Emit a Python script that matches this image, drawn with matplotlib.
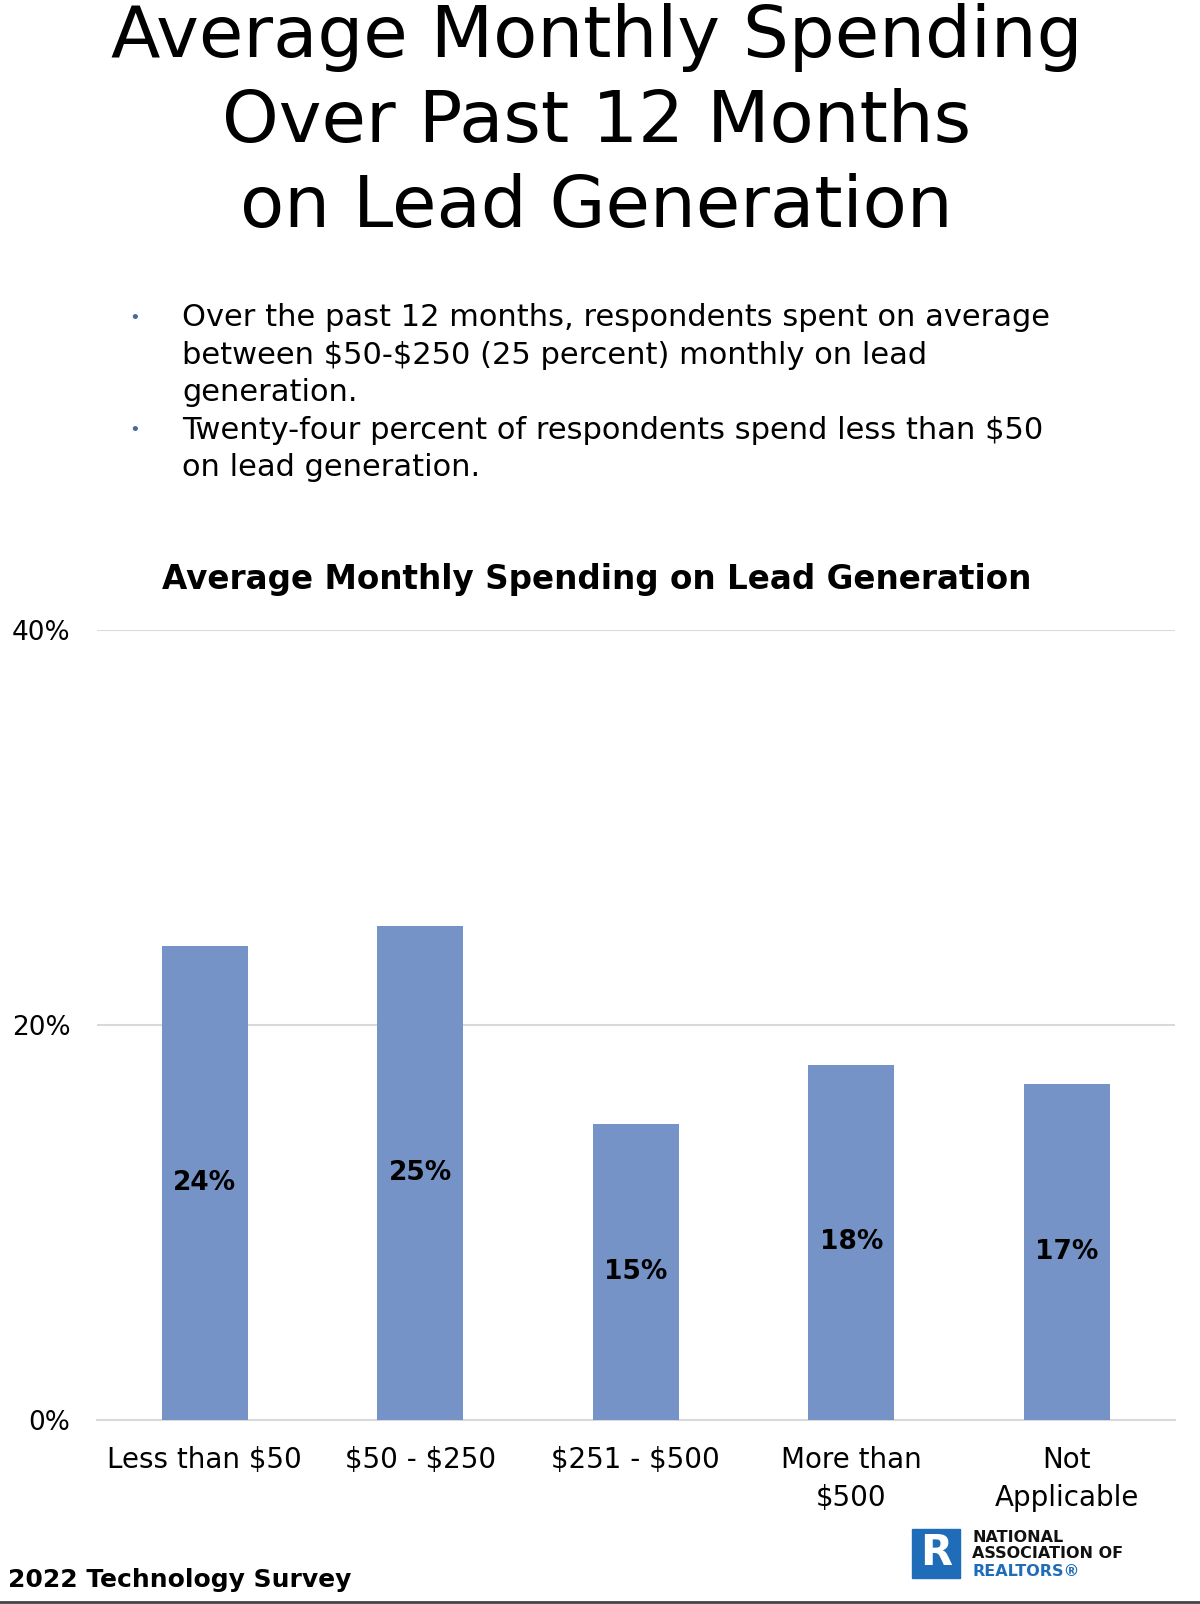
import numpy as np
import matplotlib.pyplot as plt
from matplotlib.patches import Rectangle

categories = ['Less than $50', '$50 - $250', '$251 - $500', 'More than\n$500', 'Not\nApplicable']
values = [24, 25, 15, 18, 17]
yticks = [0, 20, 40]

title_lines = ['Average Monthly Spending', 'Over Past 12 Months', 'on Lead Generation']
bullets = [
    ['Over the past 12 months, respondents spent on average',
     'between $50-$250 (25 percent) monthly on lead',
     'generation.'],
    ['Twenty-four percent of respondents spend less than $50',
     'on lead generation.'],
]

plt.rcParams['font.family'] = ['DejaVu Sans']
plt.rcParams['text.parse_math'] = False

W, H = 1200, 1604
fig = plt.figure(figsize=(W / 100, H / 100), dpi=100)

def fy(px):
    return 1 - px / H

# big title
for i, line in enumerate(title_lines):
    fig.text(0.497, fy(37 + 85.5 * i), line, ha='center', va='center', fontsize=52)

# bullets
y = 318
for b in bullets:
    fig.text(135 / W, fy(y), '\u2022', ha='center', va='center', fontsize=13, color='#4a6a9a')
    for line in b:
        fig.text(182 / W, fy(y), line, ha='left', va='center', fontsize=22)
        y += 37.4

# chart title
fig.text(0.497, fy(579), 'Average Monthly Spending on Lead Generation',
         ha='center', va='center', fontsize=23.5, fontweight='bold')

ax = fig.add_axes([97 / W, fy(1420), (1174.5 - 97) / W, (1420 - 630) / H])
x = np.arange(len(categories))
ax.bar(x, values, width=0.4, color='#7593c6', zorder=3)
ax.set_xlim(-0.5, len(categories) - 0.5)
ax.set_ylim(0, 40)
ax.set_yticks(yticks)
ax.set_yticklabels([f'{t}%' for t in yticks], fontsize=19)
ax.yaxis.grid(True, color='#d9d9d9', linewidth=1.5, zorder=0)
ax.tick_params(axis='y', length=0, pad=19)
ax.tick_params(axis='x', length=0, pad=19)
ax.set_xticks(x)
ax.set_xticklabels(categories, fontsize=20, linespacing=1.45)
for s in ['top', 'right', 'left']:
    ax.spines[s].set_visible(False)
ax.spines['bottom'].set_color('#d9d9d9')
ax.spines['bottom'].set_linewidth(1.5)

for xi, v in zip(x, values):
    ax.text(xi, v / 2, f'{v}%', ha='center', va='center', fontsize=19, fontweight='bold', zorder=4)

# footer
fig.text(8 / W, fy(1580), '2022 Technology Survey', ha='left', va='center',
         fontsize=18, fontweight='bold')
fig.add_artist(plt.Line2D([0, 1], [fy(1602), fy(1602)], color='#444444', linewidth=2))

# logo
fig.add_artist(Rectangle((912 / W, fy(1578)), 48 / W, 49 / H, color='#1f6db8'))
fig.text(936 / W, fy(1553), 'R', ha='center', va='center', fontsize=30,
         fontweight='bold', color='white', family='DejaVu Sans')
for i, (t, c) in enumerate([('NATIONAL', '#111111'), ('ASSOCIATION OF', '#111111'),
                            ('REALTORS\u00ae', '#1f6db8')]):
    fig.text(972 / W, fy(1537 + 17 * i), t, ha='left', va='center', fontsize=11.5,
             fontweight='bold', color=c)

fig.savefig('out.png', dpi=100)
